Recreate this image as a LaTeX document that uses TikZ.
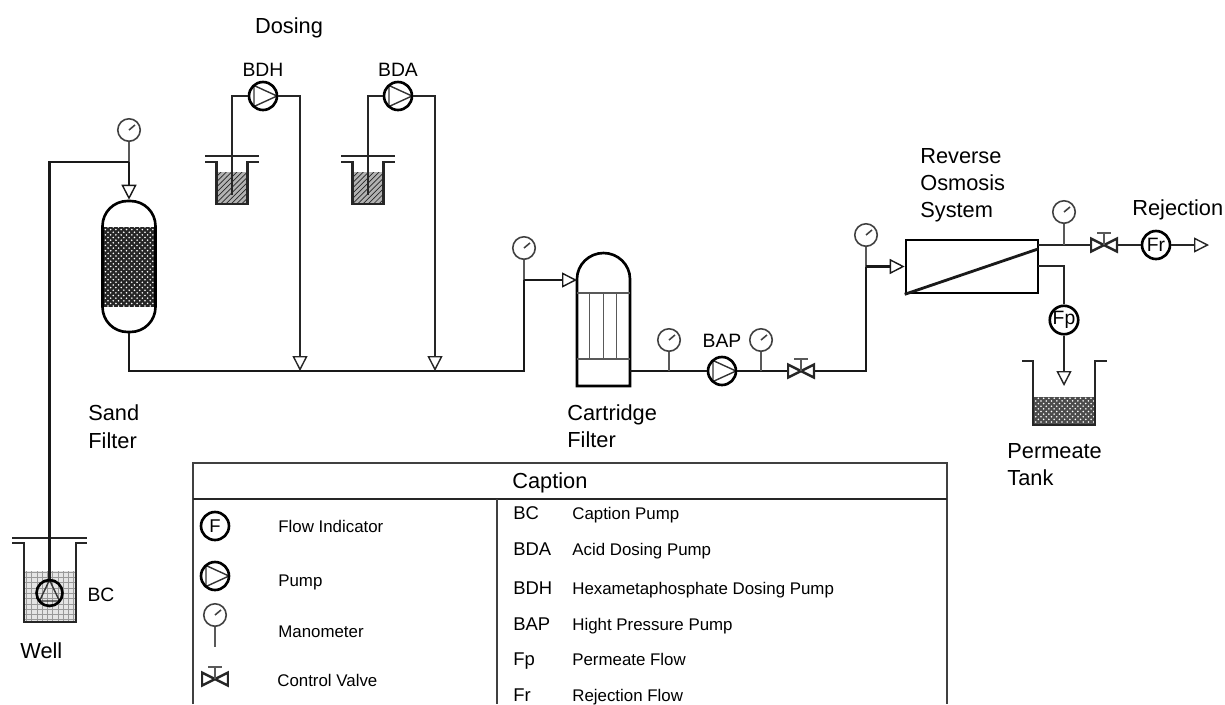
\documentclass[tikz,border=0pt]{standalone}
\usepackage{fontspec}
\setmainfont{Liberation Sans}
\usetikzlibrary{arrows.meta, positioning, patterns, calc}

\begin{document}
\begin{tikzpicture}[
    x=0.02cm, y=-0.02cm,
    % Define line styles
    pipe/.style={line width=1.6pt, black!90},
    feed/.style={line width=1.4pt, black!85},
    stem/.style={line width=0.9pt, black!65},
    tankline/.style={line width=1.5pt, black!85},
    flowtip/.style={-{Triangle[open, length=0.3cm, width=0.3cm, line width=0.8pt]}},
    % Define symbol styles
    pumpnode/.style={
        circle,
        draw=black,
        line width=1.5pt,
        minimum size=0.56cm,
        inner sep=0pt,
        path picture={
            \draw[line width=0.8pt, black!80] ([shift={(-9,-10.5)}]path picture bounding box.center) -- ([shift={(14,0)}]path picture bounding box.center) -- ([shift={(-9,10.5)}]path picture bounding box.center) -- cycle;
        }
    },
    wellpump/.style={
        circle,
        draw=black,
        line width=1.5pt,
        minimum size=0.52cm,
        inner sep=0pt,
        path picture={
            \draw[line width=0.8pt, black!80] ([shift={(-10,8)}]path picture bounding box.center) -- ([shift={(0,-13)}]path picture bounding box.center) -- ([shift={(10,8)}]path picture bounding box.center) -- cycle;
        }
    },
    gaugenode/.style={
        circle,
        draw=black!75,
        line width=0.9pt,
        minimum size=0.45cm,
        inner sep=0pt,
        path picture={
            \draw[line width=0.9pt, black!75] (path picture bounding box.center) -- ([shift={(6,-5)}]path picture bounding box.center);
        }
    },
    flownode/.style={
        circle,
        draw=black,
        line width=1.5pt,
        minimum size=0.56cm,
        inner sep=0pt,
        font=\fontsize{11}{12}\selectfont
    },
    valvenode/.style={
        minimum width=0.56cm,
        minimum height=0.4cm,
        inner sep=0pt,
        path picture={
            \draw[line width=1.4pt, black!85] ([shift={(-13,-6.5)}]path picture bounding box.center) -- ([shift={(13,6.5)}]path picture bounding box.center) -- ([shift={(13,-6.5)}]path picture bounding box.center) -- ([shift={(-13,6.5)}]path picture bounding box.center) -- cycle;
        }
    },
    label/.style={anchor=base west, inner sep=0pt, font=\fontsize{12.4}{14}\selectfont},
    tag/.style={anchor=base, inner sep=0pt, font=\fontsize{11}{13}\selectfont},
    entry/.style={anchor=base west, inner sep=0pt, font=\fontsize{9.6}{11}\selectfont},
    key/.style={anchor=base west, inner sep=0pt, font=\fontsize{10.5}{12}\selectfont},
    hatchfill/.style={preaction={fill=black!30}, pattern=north east lines, pattern color=black!85},
    sandfill/.style={preaction={fill=black!85}, pattern=crosshatch dots, pattern color=white},
    waterfill/.style={preaction={fill=black!10}, pattern=grid, pattern color=black!40},
    permfill/.style={preaction={fill=black!70}, pattern=crosshatch dots, pattern color=white}
]
    \useasboundingbox (0,0) rectangle (1225,704);

    % =================================================================
    % --- Well ---
    % =================================================================
    \fill[waterfill] (24,571) rectangle (76,622);
    \draw[tankline] (12,543) -- (24,543) -- (24,622) -- (76,622) -- (76,543) -- (87,543);
    \draw[tankline] (12,538) -- (87,538);
    \node[wellpump] (bc_pump) at (49.5,593) {};
    \node[tag] (bc_tag) at (101,601) {BC};
    \node[label] (well_lbl) at (20,658) {Well};

    % =================================================================
    % --- Sand filter ---
    % =================================================================
    \fill[sandfill] (102,227) rectangle (156,307);
    \node[draw=black, line width=1.5pt, rounded corners=0.5cm, minimum width=1.06cm, minimum height=2.62cm, inner sep=0pt] (sand_filter) at (129,266.5) {};
    \node[gaugenode] (sand_gauge) at (129,130) {};
    \coordinate (sand_top) at (129,162);
    \coordinate (sand_bottom) at (129,371);
    \draw[stem] (sand_gauge) -- (sand_top);
    \draw[pipe] (bc_pump) -- (49.5,162) -- (sand_top);
    \draw[pipe, flowtip] (sand_top) -- (sand_filter.north);
    \node[label] (sand_lbl) at (88,420) {Sand};
    \node[label] (sandb_lbl) at (88,448) {Filter};

    % =================================================================
    % --- Main line with the dosing branches ---
    % =================================================================
    \coordinate (dose_h) at (300,371);
    \coordinate (dose_a) at (435,371);
    \coordinate (rise_a) at (524,371);
    \coordinate (rise_b) at (524,280);
    \draw[pipe] (sand_filter.south) -- (sand_bottom) -- (rise_a) -- (rise_b);

    \node[font=\fontsize{12.4}{14}\selectfont, inner sep=0pt, anchor=base] (dosing_lbl) at (289,33) {Dosing};
    \foreach \tx/\px/\ax/\nm/\txt in {232/263/300/h/BDH, 368/398/435/a/BDA} {
        \fill[hatchfill] (\tx-15.5,172) rectangle (\tx+15.5,204);
        \draw[tankline] (\tx-27,162) -- (\tx-15.5,162) -- (\tx-15.5,204) -- (\tx+15.5,204) -- (\tx+15.5,162) -- (\tx+27,162);
        \draw[tankline] (\tx-27,156) -- (\tx+27,156);
        \node[pumpnode] (pump_\nm) at (\px,96) {};
        \node[tag] (tag_\nm) at (\px,76) {\txt};
        \coordinate (suction_\nm) at (\tx,195);
        \draw[feed] (suction_\nm) |- (pump_\nm.west);
        \draw[feed, flowtip] (pump_\nm.east) -| (dose_\nm);
    }

    % =================================================================
    % --- Cartridge filter and high pressure pump ---
    % =================================================================
    \node[gaugenode] (cart_gauge) at (524,248) {};
    \node[inner sep=0pt, minimum width=1.06cm, minimum height=2.66cm] (cart_filter) at (603.5,319.5) {};
    \draw[line width=1.5pt, black] (577,279) .. controls (577,264.7) and (589,253) .. (603.5,253) .. controls (618,253) and (630,264.7) .. (630,279) -- (630,386) -- (577,386) -- cycle;
    \draw[stem] (577,293) -- (630,293);
    \draw[stem] (577,359) -- (630,359);
    \foreach \x in {589.5, 603.5, 616.5} {
        \draw[stem] (\x,293) -- (\x,359);
    }
    \draw[stem] (cart_gauge) -- (rise_b);
    \coordinate (cart_in) at (577,280);
    \draw[pipe, flowtip] (rise_b) -- (cart_in);
    \node[label] (cart_lbl) at (567,420) {Cartridge};
    \node[label] (cartb_lbl) at (567,447) {Filter};

    \coordinate (cart_out) at (630,371);
    \coordinate (tap_a) at (669,371);
    \coordinate (tap_b) at (761,371);
    \node[pumpnode] (pump_bap) at (722,371) {};
    \node[tag] (tag_bap) at (722,347) {BAP};
    \node[gaugenode] (gauge_a) at (669,340) {};
    \node[gaugenode] (gauge_b) at (761,340) {};
    \node[valvenode] (valve_a) at (801,371) {};
    \draw[pipe] (cart_out) -- (pump_bap);
    \draw[pipe] (pump_bap) -- (valve_a);
    \draw[stem] (gauge_a) -- (tap_a);
    \draw[stem] (gauge_b) -- (tap_b);

    % =================================================================
    % --- Reverse osmosis system ---
    % =================================================================
    \node[draw=black, line width=1.5pt, minimum width=2.64cm, minimum height=1.06cm, inner sep=0pt] (ro_box) at (972,266.5) {};
    \coordinate (ro_membrane) at (1038,249);
    \draw[pipe] (ro_box.south west) -- (ro_membrane);
    \node[gaugenode] (ro_gauge) at (866,235) {};
    \coordinate (ro_tee) at (866,266.5);
    \draw[pipe] (valve_a) -| (ro_tee);
    \draw[stem] (ro_gauge) -- (ro_tee);
    \draw[pipe, flowtip] (ro_tee) -- (ro_box.west);
    \node[label] (ro_lbl) at (920,163) {Reverse};
    \node[label] (rob_lbl) at (920,190) {Osmosis};
    \node[label] (roc_lbl) at (920,217) {System};

    % --- Rejection line ---
    \coordinate (rej_out) at (1038,245);
    \coordinate (rej_tap) at (1064,245);
    \coordinate (rej_end) at (1209,245);
    \node[gaugenode] (rej_gauge) at (1064,212) {};
    \node[valvenode] (valve_b) at (1104,245) {};
    \node[flownode] (flow_r) at (1156,245) {Fr};
    \draw[feed] (rej_out) -- (valve_b);
    \draw[stem] (rej_gauge) -- (rej_tap);
    \draw[feed] (valve_b) -- (flow_r);
    \draw[feed, flowtip] (flow_r) -- (rej_end);
    \node[label] (rej_lbl) at (1132,215) {Rejection};

    % --- Permeate line ---
    \coordinate (perm_out) at (1038,266);
    \coordinate (perm_end) at (1064,386);
    \node[flownode] (flow_p) at (1064,320) {Fp};
    \draw[feed] (perm_out) -| (flow_p);
    \draw[feed, flowtip] (flow_p) -- (perm_end);
    \fill[permfill] (1033,397) rectangle (1095,425);
    \draw[tankline] (1022,361) -- (1033,361) -- (1033,425) -- (1095,425) -- (1095,361) -- (1107,361);
    \node[label] (perm_lbl) at (1007,458) {Permeate};
    \node[label] (permb_lbl) at (1007,485) {Tank};

    % =================================================================
    % --- Caption table ---
    % =================================================================
    \draw[line width=0.9pt, black!75] (193,704) -- (193,463) -- (947,463) -- (947,704);
    \draw[line width=0.9pt, black!85] (193,499) -- (947,499);
    \draw[line width=0.9pt, black!75] (497,499) -- (497,704);
    \node[label] (caption_lbl) at (512,488) {Caption};

    \node[flownode, font=\fontsize{10.5}{12}\selectfont] (leg_flow) at (215,526) {F};
    \node[pumpnode] (leg_pump) at (215,576) {};
    \node[gaugenode] (leg_gauge) at (215,615) {};
    \coordinate (leg_stem) at (215,647);
    \draw[stem] (leg_gauge) -- (leg_stem);
    \node[valvenode] (leg_valve) at (215,679) {};

    \node[entry] (leg_flow_txt) at (278,532) {Flow Indicator};
    \node[entry] (leg_pump_txt) at (278,586) {Pump};
    \node[entry] (leg_gauge_txt) at (278,637) {Manometer};
    \node[entry] (leg_valve_txt) at (277,686) {Control Valve};

    \foreach \v in {valve_a, valve_b, leg_valve} {
        \draw[stem] (\v.center) -- ++(0,-12) coordinate (\v_t) ++(-7,0) -- ++(14,0);
    }

    \foreach \y/\k/\d/\nm in {519/BC/Caption Pump/a, 555/BDA/Acid Dosing Pump/b, 594/BDH/Hexametaphosphate Dosing Pump/c, 630/BAP/Hight Pressure Pump/d, 665/Fp/Permeate Flow/e, 701/Fr/Rejection Flow/f} {
        \node[key] (key_\nm) at (513,\y) {\k};
        \node[entry] (desc_\nm) at (572,\y) {\d};
    }
\end{tikzpicture}
\end{document}
